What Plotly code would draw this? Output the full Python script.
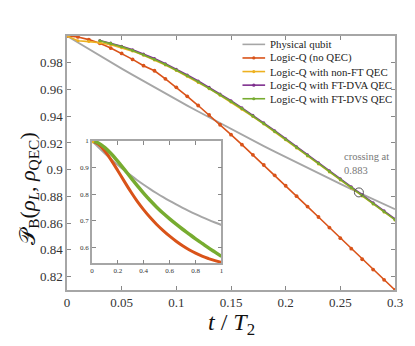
import plotly.graph_objects as go

# time grid of main panel (t / T2)
t_main = [round(0.01 * i, 2) for i in range(31)]

physical = [1.0, 0.9950, 0.9901, 0.9852, 0.9804, 0.9756, 0.9709, 0.9662, 0.9616,
            0.9570, 0.9524, 0.9479, 0.9435, 0.9391, 0.9347, 0.9304, 0.9261, 0.9218,
            0.9176, 0.9135, 0.9094, 0.9053, 0.9013, 0.8973, 0.8933, 0.8894, 0.8855,
            0.8817, 0.8779, 0.8741, 0.8704]

no_qec = [1.0, 0.9993, 0.9973, 0.9945, 0.9910, 0.9870, 0.9825, 0.9778, 0.9740,
          0.9680, 0.9616, 0.9549, 0.9480, 0.9409, 0.9336, 0.9262, 0.9187, 0.9111,
          0.9035, 0.8958, 0.8880, 0.8802, 0.8724, 0.8646, 0.8567, 0.8488, 0.8409,
          0.8330, 0.8253, 0.8176, 0.8100]

non_ft = [1.0, 0.9965, 0.9958, 0.9950, 0.9935, 0.9913, 0.9887, 0.9856, 0.9821,
          0.9783, 0.9742, 0.9698, 0.9653, 0.9606, 0.9557, 0.9506, 0.9453, 0.9398,
          0.9341, 0.9283, 0.9223, 0.9163, 0.9103, 0.9043, 0.8983, 0.8923, 0.8863,
          0.8803, 0.8744, 0.8684, 0.8624]

t_ft = t_main[3:]
ft_dva = [0.9967, 0.9948, 0.9924, 0.9897, 0.9866, 0.9831, 0.9793, 0.9752, 0.9708,
          0.9663, 0.9616, 0.9567, 0.9516, 0.9463, 0.9408, 0.9351, 0.9292, 0.9232,
          0.9172, 0.9112, 0.9052, 0.8992, 0.8932, 0.8872, 0.8812, 0.8752, 0.8692,
          0.8632]
ft_dvs = [0.9965, 0.9945, 0.9920, 0.9892, 0.9860, 0.9825, 0.9787, 0.9746, 0.9702,
          0.9657, 0.9610, 0.9561, 0.9510, 0.9457, 0.9402, 0.9345, 0.9286, 0.9226,
          0.9166, 0.9106, 0.9046, 0.8986, 0.8926, 0.8866, 0.8806, 0.8746, 0.8686,
          0.8626]

crossing_t = 0.267
crossing_val = 0.883

# inset (longer times)
t_inset = [round(0.05 * i, 2) for i in range(21)]
inset_phys = [1.0, 0.9756, 0.9524, 0.9304, 0.9094, 0.8894, 0.8704, 0.8523, 0.8352,
              0.8188, 0.8033, 0.7885, 0.7744, 0.7611, 0.7483, 0.7362, 0.7247, 0.7137,
              0.7033, 0.6934, 0.6839]
inset_noqec = [1.0, 0.987, 0.962, 0.927, 0.888, 0.848, 0.809, 0.773, 0.741, 0.712,
               0.686, 0.663, 0.642, 0.623, 0.606, 0.591, 0.578, 0.567, 0.558, 0.550,
               0.543]
inset_ft = [1.0, 0.992, 0.975, 0.951, 0.923, 0.893, 0.862, 0.832, 0.803, 0.776,
            0.751, 0.728, 0.707, 0.687, 0.668, 0.650, 0.632, 0.615, 0.598, 0.582,
            0.566]

legend_names = ['Physical qubit', 'Logic-Q (no QEC)', 'Logic-Q with non-FT QEC',
                'Logic-Q with FT-DVA QEC', 'Logic-Q with FT-DVS QEC']

GRAY = '#a6a6a6'
RED = '#d95319'
YELLOW = '#edb120'
PURPLE = '#7e2f8e'
GREEN = '#77ac30'
colors = [GRAY, RED, YELLOW, PURPLE, GREEN]
has_marker = [False, True, True, True, True]
SERIF = 'Liberation Serif, Times New Roman, serif'

fig = go.Figure()

fig.add_trace(go.Scatter(x=t_main, y=physical, mode='lines', name=legend_names[0],
                         line=dict(color=GRAY, width=1.8)))
fig.add_trace(go.Scatter(x=t_main, y=no_qec, mode='lines+markers', name=legend_names[1],
                         line=dict(color=RED, width=1.6), marker=dict(size=3.8, color=RED)))
fig.add_trace(go.Scatter(x=t_main, y=non_ft, mode='lines+markers', name=legend_names[2],
                         line=dict(color=YELLOW, width=1.6), marker=dict(size=3, color=YELLOW)))
fig.add_trace(go.Scatter(x=t_ft, y=ft_dva, mode='lines+markers', name=legend_names[3],
                         line=dict(color=PURPLE, width=1.6), marker=dict(size=3, color=PURPLE)))
fig.add_trace(go.Scatter(x=t_ft, y=ft_dvs, mode='lines+markers', name=legend_names[4],
                         line=dict(color=GREEN, width=1.6), marker=dict(size=3, color=GREEN)))

# crossing marker
fig.add_trace(go.Scatter(x=[crossing_t], y=[crossing_val], mode='markers',
                         marker=dict(symbol='circle-open', size=9, color='#555555',
                                     line=dict(width=1))))

# inset traces
fig.add_trace(go.Scatter(x=t_inset, y=inset_phys, mode='lines',
                         line=dict(color=GRAY, width=2, shape='spline'),
                         xaxis='x2', yaxis='y2'))
fig.add_trace(go.Scatter(x=t_inset, y=inset_noqec, mode='lines',
                         line=dict(color=RED, width=3, shape='spline'),
                         xaxis='x2', yaxis='y2'))
fig.add_trace(go.Scatter(x=t_inset, y=inset_ft, mode='lines',
                         line=dict(color=GREEN, width=3.5, shape='spline'),
                         xaxis='x2', yaxis='y2'))
fig.add_trace(go.Scatter(x=[0], y=[1], mode='markers',
                         marker=dict(size=5, color=YELLOW), xaxis='x2', yaxis='y2'))

axis_common = dict(showline=True, linecolor=GRAY, linewidth=1.5, mirror='allticks',
                   ticks='inside', ticklen=4, tickcolor='#888888', showgrid=False,
                   zeroline=False)

# the page adds an 8px body margin, so the figure is 8px smaller and shifted
fig.update_layout(
    width=407, height=338,
    margin=dict(l=59, r=15, t=28, b=56),
    paper_bgcolor='white', plot_bgcolor='white',
    font=dict(family=SERIF, size=13, color='#333333'),
    showlegend=False,
    xaxis=dict(range=[0, 0.3], tickvals=[0, 0.05, 0.1, 0.15, 0.2, 0.25, 0.3],
               ticktext=['0', '0.05', '0.1', '0.15', '0.2', '0.25', '0.3'], **axis_common),
    yaxis=dict(range=[0.81, 1.0], tickvals=[0.82, 0.84, 0.86, 0.88, 0.9, 0.92, 0.94, 0.96, 0.98],
               ticktext=['0.82', '0.84', '0.86', '0.88', '0.9', '0.92', '0.94', '0.96', '0.98'],
               **axis_common),
    xaxis2=dict(domain=[0.076, 0.471], anchor='y2', range=[0, 1],
                tickvals=[0, 0.2, 0.4, 0.6, 0.8, 1], ticktext=['0', '0.2', '0.4', '0.6', '0.8', '1'],
                tickfont=dict(size=7), **axis_common),
    yaxis2=dict(domain=[0.105, 0.587], anchor='x2', range=[0.54, 1.0],
                tickvals=[0.6, 0.7, 0.8, 0.9, 1], ticktext=['0.6', '0.7', '0.8', '0.9', '1'],
                tickfont=dict(size=7), **axis_common),
)

# compact legend drawn by hand (plotly's entries are taller than the reference's)
leg_x0, leg_x1, leg_tx = 0.535, 0.604, 0.612
leg_y0, leg_dy = 0.967, 0.0535
for i, (name, col) in enumerate(zip(legend_names, colors)):
    yy = leg_y0 - i * leg_dy
    fig.add_shape(type='line', xref='paper', yref='paper', x0=leg_x0, x1=leg_x1,
                  y0=yy, y1=yy, line=dict(color=col, width=1.6))
    if has_marker[i]:
        xm = (leg_x0 + leg_x1) / 2
        fig.add_shape(type='circle', xref='paper', yref='paper', xsizemode='pixel',
                      ysizemode='pixel', xanchor=xm, yanchor=yy, x0=-1.6, x1=1.6,
                      y0=-1.6, y1=1.6, fillcolor=col, line=dict(color=col, width=0))
    fig.add_annotation(x=leg_tx, y=yy, xref='paper', yref='paper', text=name,
                       showarrow=False, xanchor='left', yanchor='middle',
                       font=dict(family=SERIF, size=10.8, color='#222222'))

fig.add_annotation(x=0.2514, y=0.8938, xref='x', yref='y',
                   text='crossing at<br>0.883', showarrow=False, align='left',
                   xanchor='left', yanchor='bottom',
                   font=dict(family=SERIF, size=10.5, color='#777777'))

fig.add_annotation(x=-0.115, y=0.40, xref='paper', yref='paper', textangle=-90,
                   text='𝒫<sub>B</sub>(<i>ρ<sub>L</sub></i>, <i>ρ</i><sub>QEC</sub>)',
                   showarrow=False, xanchor='center', yanchor='middle',
                   font=dict(family=SERIF, size=22, color='#111111'))
fig.add_annotation(x=0.5, y=-0.135, xref='paper', yref='paper',
                   text='<i>t</i> / <i>T</i><sub>2</sub>', showarrow=False,
                   xanchor='center', yanchor='middle',
                   font=dict(family=SERIF, size=24, color='#111111'))

fig.write_html("out.html")
